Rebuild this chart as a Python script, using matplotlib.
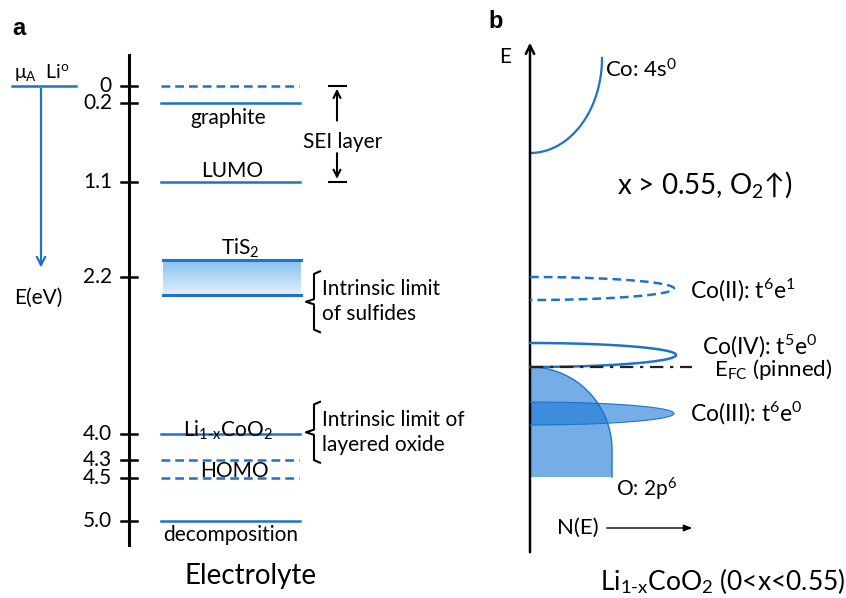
import numpy as np
import matplotlib
matplotlib.use('Agg')
import matplotlib.pyplot as plt
from matplotlib.patches import Polygon

plt.rcParams['font.family'] = ['Lato', 'DejaVu Sans']
plt.rcParams['mathtext.fontset'] = 'custom'
plt.rcParams['mathtext.rm'] = 'Lato'
plt.rcParams['mathtext.it'] = 'Lato:italic'
plt.rcParams['mathtext.bf'] = 'Lato:bold'
plt.rcParams['mathtext.fallback'] = 'stixsans'

BLUE = '#1f72c8'

# ---- panel a: energies in eV below Li metal
tick_values = [0, 0.2, 1.1, 2.2, 4.0, 4.3, 4.5, 5.0]
tick_labels = ['0', '0.2', '1.1', '2.2', '4.0', '4.3', '4.5', '5.0']
solid_levels = [0.2, 1.1, 4.0, 5.0]
dashed_levels = [0, 4.3, 4.5]
tis2_band = [2.0, 2.4]
sei_range = [0, 1.1]
sulfide_limit = 2.48
oxide_limit = 3.98

# ---- panel b: schematic density of states (arbitrary units, E grows upward)
co4s_bottom = 153
co4s_top = 58
co4s_width = 72
state_names = ['Co(II): t$^6$e$^1$', 'Co(IV): t$^5$e$^0$', 'Co(III): t$^6$e$^0$']
state_centers = [288.5, 355, 413.5]
state_halfh = [11.5, 12, 11.5]
state_width = [144, 146, 144]
e_fc = 367
o2p_corner = 450
o2p_bottom = 477
o2p_width = 82

FS = 15

fig = plt.figure(figsize=(8.46, 5.98), dpi=100)

# panel a axes: x in pixels, y in eV (0 eV at 86 px, 87 px per eV)
axA = fig.add_axes([0, 0, 1, 1])
axA.axis('off')

axA.plot([129, 129], [-0.36, 5.28], color='black', lw=2.2)
for v, lab in zip(tick_values, tick_labels):
    axA.plot([121, 137], [v, v], color='black', lw=1.8)
    axA.text(112, v, lab, ha='right', va='center', fontsize=FS)

for v in solid_levels:
    axA.plot([161, 300], [v, v], color=BLUE, lw=1.8)
for v in dashed_levels:
    axA.plot([161, 299], [v, v], color=BLUE, lw=1.8, ls=(0, (3.5, 2)))

# TiS2 band with gradient
grad = np.linspace(0, 1, 100).reshape(-1, 1)
cm = matplotlib.colors.LinearSegmentedColormap.from_list('b', ['#86c0ef', '#e4f1fb'])
axA.imshow(grad, cmap=cm, extent=[163, 301, tis2_band[1], tis2_band[0]], aspect='auto', zorder=1)
for v in tis2_band:
    axA.plot([163, 301], [v, v], color=BLUE, lw=2.2, zorder=2)
axA.set_xlim(0, 846)
axA.set_ylim((598 - 86) / 87, -86 / 87)

axA.text(228, 0.2 + 0.05, 'graphite', ha='center', va='top', fontsize=FS)
axA.text(232, 1.1 - 0.01, 'LUMO', ha='center', va='bottom', fontsize=FS)
axA.text(240, tis2_band[0] - 0.0, 'TiS$_2$', ha='center', va='bottom', fontsize=FS)
axA.text(228, 4.0 + 0.09, 'Li$_{\\mathrm{1\\text{-}x}}$CoO$_2$', ha='center', va='bottom', fontsize=FS)
axA.text(234, 4.42, 'HOMO', ha='center', va='center', fontsize=FS)
axA.text(231, 5.0 + 0.05, 'decomposition', ha='center', va='top', fontsize=FS)
axA.text(251, 5.63, 'Electrolyte', ha='center', va='center', fontsize=20)

# Li metal reference and E(eV) arrow
axA.plot([12, 76], [0, 0], color=BLUE, lw=1.8)
axA.text(14, -0.04, 'μ$_\\mathrm{A}$  Li$^{\\mathrm{o}}$', ha='left', va='bottom', fontsize=14)
axA.annotate('', xy=(41, 2.12), xytext=(41, 0),
             arrowprops=dict(arrowstyle='->,head_width=0.3,head_length=0.6', color=BLUE, lw=1.6))
axA.text(38, 2.43, 'E(eV)', ha='center', va='center', fontsize=FS)

# SEI layer arrows
for v in sei_range:
    axA.plot([329, 346], [v, v], color='black', lw=1.5)
axA.annotate('', xy=(337, sei_range[0]), xytext=(337, 0.43),
             arrowprops=dict(arrowstyle='->,head_width=0.25,head_length=0.5', color='black', lw=1.5))
axA.annotate('', xy=(337, sei_range[1]), xytext=(337, 0.74),
             arrowprops=dict(arrowstyle='->,head_width=0.25,head_length=0.5', color='black', lw=1.5))
axA.text(343, 0.64, 'SEI layer', ha='center', va='center', fontsize=FS)


def bracket(mid, label):
    h = 0.35
    xs = [320, 314, 314, 306, 314, 314, 320]
    ys = [mid - h, mid - h + 0.03, mid - 0.03, mid, mid + 0.03, mid + h - 0.03, mid + h]
    axA.plot(xs, ys, color='black', lw=1.5)
    axA.text(322, mid, label, ha='left', va='center', fontsize=FS, linespacing=1.3)


bracket(sulfide_limit, 'Intrinsic limit\nof sulfides')
bracket(oxide_limit, 'Intrinsic limit of\nlayered oxide')

axA.text(12, -0.66, 'a', ha='left', va='center', fontsize=17, fontweight='bold',
         family='Liberation Sans')

# panel b axes: pixel-like schematic units
axB = fig.add_axes([0, 0, 1, 1])
axB.set_xlim(0, 846)
axB.set_ylim(598, 0)
axB.axis('off')
axB.patch.set_alpha(0)

x0 = 530
axB.annotate('', xy=(x0, 40), xytext=(x0, 555),
             arrowprops=dict(arrowstyle='->,head_width=0.3,head_length=0.6', color='black', lw=1.8))
axB.text(505, 57, 'E', ha='center', va='center', fontsize=FS)
axB.text(488, 22, 'b', ha='left', va='center', fontsize=17, fontweight='bold',
         family='Liberation Sans')

t = np.linspace(0, np.pi / 2, 60)
axB.plot(x0 + co4s_width * np.sin(t), co4s_top + (co4s_bottom - co4s_top) * np.cos(t),
         color=BLUE, lw=1.6)
axB.text(605, 70, 'Co: 4s$^0$', ha='left', va='center', fontsize=16)

axB.text(617, 185, 'x > 0.55, O$_2$↑)', ha='left', va='center', fontsize=20)

# O 2p band (quarter ellipse + straight side)
t = np.linspace(0, np.pi / 2, 80)
ox = np.concatenate([[x0], x0 + o2p_width * np.sin(t), [x0 + o2p_width, x0]])
oy = np.concatenate([[e_fc], o2p_corner - (o2p_corner - e_fc) * np.cos(t), [o2p_bottom, o2p_bottom]])
axB.add_patch(Polygon(np.column_stack([ox, oy]), closed=True, facecolor='#1a78d6', alpha=0.6,
                      edgecolor='none', zorder=2))
axB.plot(ox[1:-1], oy[1:-1], color=BLUE, lw=1.0, zorder=3)
axB.text(616, 489, 'O: 2p$^6$', ha='left', va='center', fontsize=FS)

# Co states as half ellipses
t = np.linspace(-np.pi / 2, np.pi / 2, 100)
for i, (name, c, hh, w) in enumerate(zip(state_names, state_centers, state_halfh, state_width)):
    ex = x0 + w * np.cos(t)
    ey = c + hh * np.sin(t)
    if i == 0:
        axB.plot(ex, ey, color=BLUE, lw=1.8, ls=(0, (3.5, 2)), zorder=4)
        axB.text(690, c + 2, name, ha='left', va='center', fontsize=16.5)
    elif i == 1:
        axB.plot(ex, ey, color=BLUE, lw=1.8, zorder=4)
        axB.text(702, c - 9, name, ha='left', va='center', fontsize=16.5)
    else:
        axB.add_patch(Polygon(np.column_stack([ex, ey]), closed=True, facecolor='#1a78d6', alpha=0.6,
                              edgecolor='none', zorder=2))
        axB.plot(ex, ey, color=BLUE, lw=0.8, zorder=3)
        axB.text(690, c, name, ha='left', va='center', fontsize=16.5)

axB.plot([x0, 692], [e_fc, e_fc], color='#222222', lw=1.6, ls=(0, (6, 3, 1.5, 3)), zorder=5)
axB.text(714, 370, 'E$_\\mathrm{FC}$ (pinned)', ha='left', va='center', fontsize=16)

axB.text(557, 528, 'N(E)', ha='left', va='center', fontsize=16)
axB.annotate('', xy=(695, 528), xytext=(604, 528),
             arrowprops=dict(arrowstyle='-|>,head_width=0.2,head_length=0.5', color='black', lw=1.0))

axB.text(723, 581, 'Li$_{\\mathrm{1\\text{-}x}}$CoO$_2$ (0<x<0.55)', ha='center', va='center', fontsize=19)

fig.savefig('out.png', dpi=100)
